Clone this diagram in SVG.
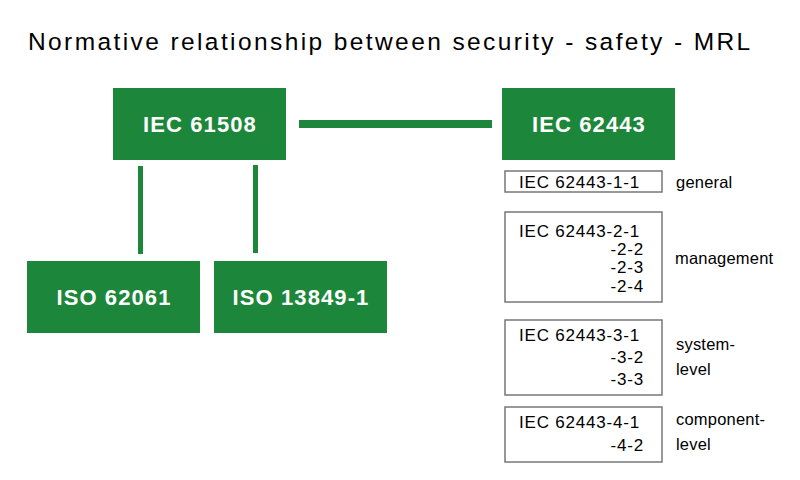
<svg xmlns="http://www.w3.org/2000/svg" width="800" height="480" viewBox="0 0 800 480">
<style>
.title{font-family:"Liberation Sans",Arial,sans-serif;font-size:24.5px;fill:#000;letter-spacing:2.4px}
.gbox{fill:#1c873a}
.gtxt{font-family:"Liberation Sans",Arial,sans-serif;font-size:22px;font-weight:bold;fill:#fff;letter-spacing:1.1px;text-anchor:middle}
.sbox{fill:#fff;stroke:#777;stroke-width:1.5}
.stxt{font-family:"Liberation Sans",Arial,sans-serif;font-size:17px;fill:#000;letter-spacing:0.8px}
.end{text-anchor:end}
.lbl{font-family:"Liberation Sans",Arial,sans-serif;font-size:16.5px;fill:#000;letter-spacing:0.2px}
.conn{fill:#1c873a}
</style>
<rect width="800" height="480" fill="#fff"/>
<text class="title" x="28" y="50">Normative relationship between security - safety - MRL</text>
<g id="connectors">
<rect class="conn" x="299" y="120" width="193" height="8"/>
<rect class="conn" x="138" y="166" width="5" height="88"/>
<rect class="conn" x="253" y="165" width="5" height="88"/>
</g>
<g id="iec61508">
<rect class="gbox" x="113" y="88" width="173" height="72"/>
<text class="gtxt" x="200" y="132">IEC 61508</text>
</g>
<g id="iec62443">
<rect class="gbox" x="502" y="88" width="173" height="72"/>
<text class="gtxt" x="589" y="132">IEC 62443</text>
</g>
<g id="iso62061">
<rect class="gbox" x="27" y="261" width="173" height="72"/>
<text class="gtxt" x="114" y="305">ISO 62061</text>
</g>
<g id="iso13849">
<rect class="gbox" x="214" y="261" width="173" height="72"/>
<text class="gtxt" x="301" y="305">ISO 13849-1</text>
</g>
<g id="part1">
<rect class="sbox" x="505" y="171" width="157" height="21"/>
<text class="stxt" x="519" y="188">IEC 62443-1-1</text>
<text class="lbl" x="676" y="188">general</text>
</g>
<g id="part2">
<rect class="sbox" x="505" y="212" width="157" height="90"/>
<text class="stxt" x="519" y="237">IEC 62443-2-1</text>
<text class="stxt end" x="644" y="255">-2-2</text>
<text class="stxt end" x="644" y="273">-2-3</text>
<text class="stxt end" x="644" y="292">-2-4</text>
<text class="lbl" x="675" y="264">management</text>
</g>
<g id="part3">
<rect class="sbox" x="505" y="320" width="157" height="75"/>
<text class="stxt" x="519" y="341">IEC 62443-3-1</text>
<text class="stxt end" x="644" y="363">-3-2</text>
<text class="stxt end" x="644" y="385">-3-3</text>
<text class="lbl" x="676" y="350">system-</text>
<text class="lbl" x="676" y="375">level</text>
</g>
<g id="part4">
<rect class="sbox" x="505" y="407" width="157" height="55"/>
<text class="stxt" x="519" y="428">IEC 62443-4-1</text>
<text class="stxt end" x="644" y="451">-4-2</text>
<text class="lbl" x="676" y="425">component-</text>
<text class="lbl" x="676" y="450">level</text>
</g>
</svg>
